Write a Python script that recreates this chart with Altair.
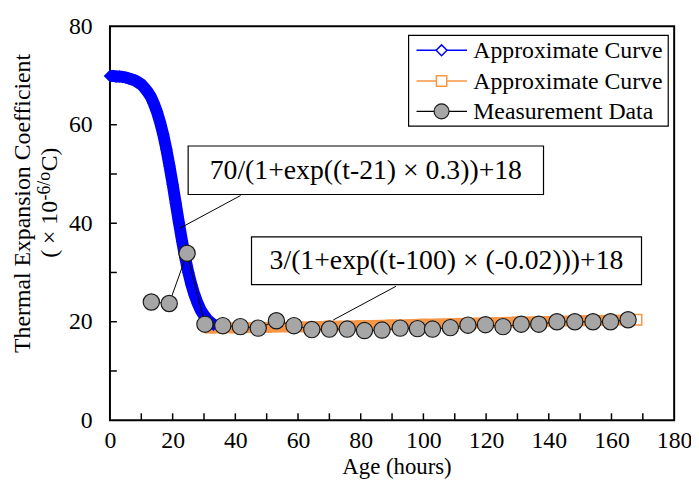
import altair as alt
import pandas as pd

# ---------------- data ----------------
blue_t = list(range(0, 34))
blue_v = [69.9, 69.9, 69.8, 69.8, 69.7, 69.6, 69.4, 69.2, 69.0, 68.6,
          68.2, 67.5, 66.7, 65.7, 64.3, 62.6, 60.5, 58.0, 55.0, 51.6,
          47.9, 44.0, 40.1, 36.4, 33.0, 30.0, 27.5, 25.4, 23.7, 22.3,
          21.3, 20.5, 19.9, 19.4]

orange_t = [32, 40, 50, 60, 70, 80, 90, 100, 110, 120, 130, 140, 150, 160, 168]
orange_v = [18.7, 18.75, 18.85, 18.95, 19.1, 19.2, 19.35, 19.5, 19.65, 19.8,
            19.95, 20.05, 20.2, 20.3, 20.4]

meas_t = [13.2, 18.9, 24.6, 30.3, 36.0, 41.6, 47.3, 53.1, 58.7, 64.4,
          70.0, 75.7, 81.2, 86.8, 92.6, 98.1, 102.9, 108.6, 114.2, 119.8,
          125.4, 131.2, 136.8, 142.6, 148.3, 154.1, 159.7, 165.3]
meas_v = [24.0, 23.7, 33.9, 19.5, 19.2, 19.0, 18.7, 20.2, 19.2, 18.4,
          18.5, 18.5, 18.2, 18.3, 18.7, 18.6, 18.5, 18.8, 19.3, 19.4,
          19.0, 19.5, 19.5, 20.0, 20.0, 20.0, 20.0, 20.4]

x_labels = [0, 20, 40, 60, 80, 100, 120, 140, 160, 180]
x_ticks = list(range(10, 180, 10))
y_labels = [0, 20, 40, 60, 80]
y_ticks = list(range(10, 80, 10))

legend_labels = ["Approximate Curve", "Approximate Curve", "Measurement Data"]
formula_1 = "70/(1+exp((t-21) × 0.3))+18"
formula_2 = "3/(1+exp((t-100) × (-0.02)))+18"
x_title = "Age (hours)"
y_title_1 = "Thermal Expansion Coefficient"
y_title_2 = ["( × 10", "-6/o", "C)"]

# ---------------- styling ----------------
FONT = "Liberation Serif"
BLUE = "#0000FF"
ORANGE = "#F79646"
GREY = "#A6A6A6"

blue = pd.DataFrame({"t": blue_t, "v": blue_v})
orange = pd.DataFrame({"t": orange_t, "v": orange_v})
meas = pd.DataFrame({"t": meas_t, "v": meas_v})
xt = pd.DataFrame({"t": x_ticks})
yt = pd.DataFrame({"v": y_ticks})
one = pd.DataFrame({"k": [0]})

xs = alt.Scale(domain=[0, 180], nice=False, zero=False)
ys = alt.Scale(domain=[0, 80], nice=False, zero=False)
xaxis = alt.Axis(values=x_labels, ticks=False, tickSize=0, domain=False, grid=False,
                 labelFont=FONT, labelFontSize=24, labelColor="black", labelPadding=9,
                 labelFlush=False, labelOverlap=False, title="")
yaxis = alt.Axis(values=y_labels, ticks=False, tickSize=0, domain=False, grid=False,
                 labelFont=FONT, labelFontSize=24, labelColor="black", labelPadding=18,
                 labelOverlap=False, title="")
X = alt.X("t:Q", scale=xs, axis=xaxis)
Y = alt.Y("v:Q", scale=ys, axis=yaxis)

H = 398

xtick = alt.Chart(xt).mark_rule(color="black", strokeWidth=1.5).encode(
    x=X, y=alt.value(H), y2=alt.value(H - 7))
ytick = alt.Chart(yt).mark_rule(color="black", strokeWidth=1.5).encode(
    y=Y, x=alt.value(0), x2=alt.value(7))

orange_line = alt.Chart(orange).mark_line(color=ORANGE, strokeWidth=11, strokeCap="butt").encode(x=X, y=Y)
orange_pts = alt.Chart(orange).mark_point(shape="square", filled=True, color=ORANGE,
                                          size=121, opacity=1).encode(x=X, y=Y)
orange_end = alt.Chart(orange.tail(1)).mark_point(shape="square", fill="white", stroke=ORANGE,
                                                  strokeWidth=1.5, size=110, opacity=1).encode(x=X, y=Y)

blue_line = alt.Chart(blue).mark_line(color=BLUE, strokeWidth=12).encode(x=X, y=Y)
blue_pts = alt.Chart(blue).mark_point(shape="diamond", filled=True, color=BLUE,
                                      size=160, opacity=1).encode(x=X, y=Y)

meas_line = alt.Chart(meas).mark_line(color="black", strokeWidth=1).encode(x=X, y=Y)
meas_pts = alt.Chart(meas).mark_point(shape="circle", fill=GREY, stroke="#1a1a1a", strokeWidth=1.2,
                                      size=270, opacity=1).encode(x=X, y=Y)

# annotation callouts
lead1 = alt.Chart(one).mark_rule(color="black", strokeWidth=1).encode(
    x=alt.value(132), y=alt.value(171), x2=alt.value(70.7), y2=alt.value(204))
lead2 = alt.Chart(one).mark_rule(color="black", strokeWidth=1).encode(
    x=alt.value(289), y=alt.value(262.7), x2=alt.value(225.7), y2=alt.value(296.7))
box1 = alt.Chart(one).mark_rect(fill="white", stroke="black", strokeWidth=1.2).encode(
    x=alt.value(79), x2=alt.value(438), y=alt.value(121), y2=alt.value(170))
box2 = alt.Chart(one).mark_rect(fill="white", stroke="black", strokeWidth=1.2).encode(
    x=alt.value(143), x2=alt.value(537), y=alt.value(212.7), y2=alt.value(261))
txt1 = alt.Chart(one).mark_text(text=formula_1, font=FONT, fontSize=28, color="black",
                                align="center", baseline="middle").encode(
    x=alt.value(258.5), y=alt.value(146))
txt2 = alt.Chart(one).mark_text(text=formula_2, font=FONT, fontSize=28, color="black",
                                align="center", baseline="middle").encode(
    x=alt.value(340), y=alt.value(237.5))

# legend
leg_box = alt.Chart(one).mark_rect(fill="white", stroke="black", strokeWidth=1.2).encode(
    x=alt.value(301.7), x2=alt.value(564), y=alt.value(9.3), y2=alt.value(101))
leg_layers = []
leg_y = [24.3, 55.3, 86]
leg_line_col = [BLUE, ORANGE, "black"]
for i in range(3):
    yy = leg_y[i]
    leg_layers.append(alt.Chart(one).mark_rule(color=leg_line_col[i], strokeWidth=1.5).encode(
        x=alt.value(309.7), x2=alt.value(360.7), y=alt.value(yy)))
    leg_layers.append(alt.Chart(one).mark_text(text=legend_labels[i], font=FONT, fontSize=24,
                                               color="black", align="left", baseline="middle").encode(
        x=alt.value(367), y=alt.value(yy + 1)))
leg_layers.append(alt.Chart(one).mark_point(shape="diamond", fill="white", stroke=BLUE, strokeWidth=1.5,
                                            size=120, opacity=1).encode(x=alt.value(335), y=alt.value(leg_y[0])))
leg_layers.append(alt.Chart(one).mark_point(shape="square", fill="white", stroke=ORANGE, strokeWidth=1.5,
                                            size=110, opacity=1).encode(x=alt.value(335), y=alt.value(leg_y[1])))
leg_layers.append(alt.Chart(one).mark_point(shape="circle", fill=GREY, stroke="#1a1a1a", strokeWidth=1.2,
                                            size=230, opacity=1).encode(x=alt.value(335), y=alt.value(leg_y[2])))

# axis titles
xtitle = alt.Chart(one).mark_text(text=x_title, font=FONT, fontSize=23, color="black",
                                  align="center", baseline="middle").encode(
    x=alt.value(290), y=alt.value(445))
yc = 179
ytitle1 = alt.Chart(one).mark_text(text=y_title_1, font=FONT, fontSize=24, color="black", angle=270,
                                   align="center", baseline="middle").encode(
    x=alt.value(-88), y=alt.value(yc))
y2_start = yc + 55
ytitle2a = alt.Chart(one).mark_text(text=y_title_2[0], font=FONT, fontSize=24, color="black", angle=270,
                                    align="left", baseline="middle").encode(
    x=alt.value(-60), y=alt.value(y2_start))
ytitle2b = alt.Chart(one).mark_text(text=y_title_2[1], font=FONT, fontSize=18, color="black", angle=270,
                                    align="left", baseline="middle").encode(
    x=alt.value(-66), y=alt.value(y2_start - 58))
ytitle2c = alt.Chart(one).mark_text(text=y_title_2[2], font=FONT, fontSize=24, color="black", angle=270,
                                    align="left", baseline="middle").encode(
    x=alt.value(-60), y=alt.value(y2_start - 58 - 29.5))

chart = alt.layer(
    xtick, ytick,
    orange_line, orange_pts, orange_end,
    blue_line, blue_pts,
    meas_line, meas_pts,
    lead1, lead2, box1, box2, txt1, txt2,
    leg_box, *leg_layers,
    xtitle, ytitle1, ytitle2a, ytitle2b, ytitle2c,
).properties(
    width=570, height=H,
    padding={"left": 103, "top": 16, "right": 17, "bottom": 60},
    autosize=alt.AutoSizeParams(type="none"),
).configure_view(stroke="black", strokeWidth=2)

chart.save("out.html", embed_options={"renderer": "svg", "actions": False})
